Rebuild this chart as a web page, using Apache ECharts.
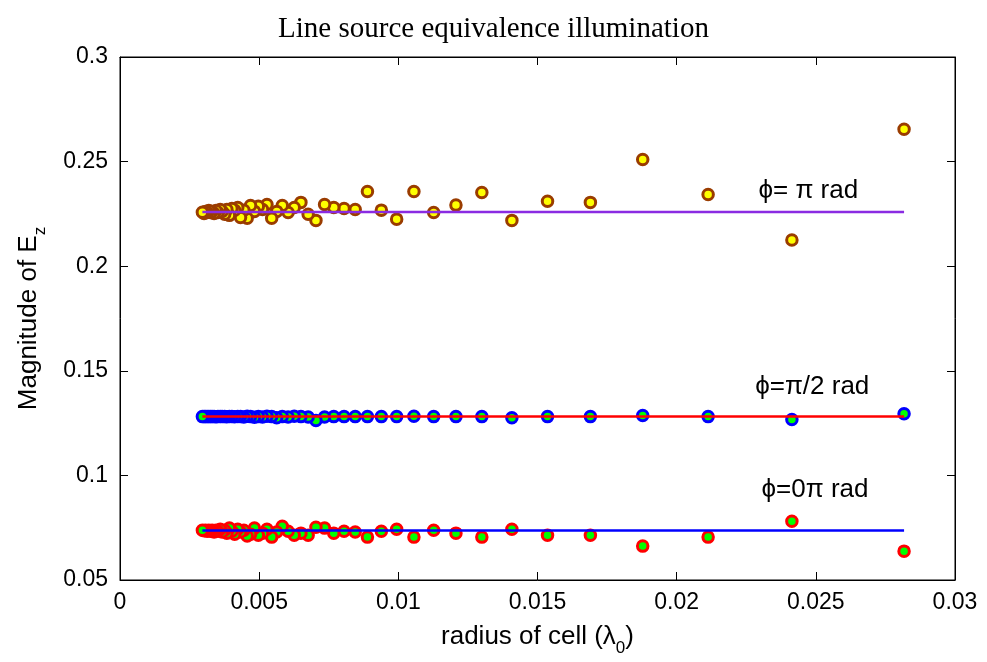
<!DOCTYPE html>
<html>
<head>
<meta charset="utf-8">
<script src="https://cdn.jsdelivr.net/npm/echarts@6/dist/echarts.min.js"></script>
<style>
html,body{margin:0;padding:0;background:#fff;}
#chart{width:987px;height:662px;}
</style>
</head>
<body>
<div id="chart"></div>
<script>
// radius of cell (lambda_0)
const radius = [0.02817,0.02414,0.02113,0.01878,0.0169,0.01536,0.01408,0.0130,0.01207,0.01127,
  0.01056,0.00994,0.00939,0.00889,0.00845,0.00805,0.00768,0.00735,0.00704,0.00676,
  0.0065,0.00626,0.00604,0.00583,0.00563,0.00545,0.00528,0.00512,0.00497,0.00483,
  0.00469,0.00457,0.00445,0.00433,0.00423,0.00412,0.00402,0.00393,0.00384,0.00376,
  0.00367,0.0036,0.00352,0.00345,0.00338,0.00331,0.00325,0.00319,0.00313,0.00307,
  0.00302,0.00296];
// phi = pi
const ezPi = [0.2655,0.2125,0.2343,0.2510,0.2305,0.2310,0.2219,0.2352,0.2292,0.2257,
  0.2357,0.2225,0.2268,0.2357,0.2271,0.2276,0.2281,0.2295,0.2219,0.2248,
  0.2305,0.2281,0.2257,0.2290,0.2262,0.2229,0.2295,0.2271,0.2286,0.2262,
  0.2290,0.2229,0.2267,0.2233,0.2281,0.2267,0.2276,0.2243,0.2271,0.2248,
  0.2262,0.2271,0.2257,0.2266,0.2252,0.2262,0.2257,0.2266,0.2257,0.2262,
  0.2252,0.2258];
// phi = pi/2
const ezHalfPi = [0.1295,0.1267,0.1281,0.1286,0.1281,0.1281,0.1276,0.1281,0.1281,0.1281,
  0.1283,0.1281,0.1281,0.1281,0.1281,0.1281,0.1281,0.1279,0.1262,0.1279,
  0.1281,0.1283,0.1279,0.1281,0.1276,0.1281,0.1283,0.1279,0.1281,0.1278,
  0.1281,0.1283,0.1279,0.1281,0.1282,0.1280,0.1281,0.1282,0.1280,0.1281,
  0.1281,0.1282,0.1281,0.1280,0.1281,0.1281,0.1281,0.1281,0.1281,0.1281,
  0.1281,0.1281];
// phi = 0
const ezZero = [0.0638,0.0781,0.0705,0.0662,0.0714,0.0714,0.0743,0.0705,0.0724,0.0738,
  0.0705,0.0743,0.0733,0.0705,0.0729,0.0733,0.0724,0.0748,0.0752,0.0714,
  0.0724,0.0714,0.0733,0.0757,0.0729,0.0705,0.0743,0.0724,0.0714,0.0748,
  0.0719,0.0710,0.0738,0.0729,0.0743,0.0719,0.0733,0.0748,0.0724,0.0738,
  0.0729,0.0743,0.0733,0.0738,0.0729,0.0738,0.0733,0.0738,0.0733,0.0738,
  0.0735,0.0738];
// line-source reference levels
const levelPi = 0.2259;
const levelHalfPi = 0.1282;
const levelZero = 0.0737;
// annotation texts and their data anchors
const annoText = ['ϕ= π rad', 'ϕ=π/2 rad', 'ϕ=0π rad'];
const annoX = [0.02473, 0.02487, 0.02497];
const annoY = [0.2362, 0.1424, 0.0933];

const xMin = Math.min(...radius), xMax = Math.max(...radius);
const pts = (ys) => radius.map((x, i) => [x, ys[i]]);
const lvl = (y) => [[xMin, y], [xMax, y]];

const FONT = 'Liberation Sans, Arial, sans-serif';
const chart = echarts.init(document.getElementById('chart'));
const axisCommon = {
  axisLine: {show: true, onZero: false, lineStyle: {color: '#000', width: 1}},
  axisTick: {show: true, inside: true, length: 8, lineStyle: {color: '#000'}},
  splitLine: {show: false},
  axisLabel: {color: '#000', fontSize: 23, fontFamily: FONT}
};
const scatterStyle = (fill, edge) => ({
  type: 'scatter', symbol: 'circle', symbolSize: 10.5, z: 2,
  itemStyle: {color: fill, borderColor: edge, borderWidth: 3, opacity: 1},
  emphasis: {disabled: true}
});
const lineStyle = (color, y) => ({
  type: 'line', data: lvl(y), showSymbol: false, symbol: 'none', z: 3,
  lineStyle: {color: color, width: 2.5}, emphasis: {disabled: true}
});
const nameRich = {
  a: {fontSize: 26, fontFamily: FONT, color: '#000', verticalAlign: 'bottom', lineHeight: 30},
  s: {fontSize: 17, fontFamily: FONT, color: '#000', verticalAlign: 'bottom', lineHeight: 22, padding: [0, 0, -7, 0]}
};

chart.setOption({
  animation: false,
  backgroundColor: '#fff',
  title: {
    text: 'Line source equivalence illumination',
    left: 'center', top: 10,
    textStyle: {fontFamily: 'Liberation Serif, Times New Roman, serif', fontSize: 29, fontWeight: 'normal', color: '#000'}
  },
  grid: {left: 120, right: 32, top: 57, bottom: 80, show: true, borderColor: '#000', borderWidth: 1, backgroundColor: 'transparent'},
  xAxis: [
    Object.assign({}, axisCommon, {
      type: 'value', min: 0, max: 0.03, interval: 0.005, position: 'bottom',
      axisLabel: Object.assign({}, axisCommon.axisLabel, {margin: 11}),
      name: '{a|radius of cell (λ}{s|0}{a|)}', nameLocation: 'middle', nameGap: 40,
      nameTextStyle: {rich: nameRich}
    }),
    Object.assign({}, axisCommon, {
      type: 'value', min: 0, max: 0.03, interval: 0.005, position: 'top',
      axisLabel: {show: false}
    })
  ],
  yAxis: [
    Object.assign({}, axisCommon, {
      type: 'value', min: 0.05, max: 0.3, interval: 0.05, position: 'left',
      axisLabel: Object.assign({}, axisCommon.axisLabel, {margin: 12}),
      name: '{a|Magnitude of E}{s|z}', nameLocation: 'middle', nameGap: 78, nameRotate: 90,
      nameTextStyle: {rich: nameRich}
    }),
    Object.assign({}, axisCommon, {
      type: 'value', min: 0.05, max: 0.3, interval: 0.05, position: 'right',
      axisLabel: {show: false}
    })
  ],
  series: [
    Object.assign(scatterStyle('#ffff00', '#9a3c00'), {name: 'pi', data: pts(ezPi)}),
    Object.assign(scatterStyle('#00ff00', '#0000ff'), {name: 'halfpi', data: pts(ezHalfPi)}),
    Object.assign(scatterStyle('#00ff00', '#ff0000'), {name: 'zero', data: pts(ezZero)}),
    lineStyle('#8a2be2', levelPi),
    lineStyle('#ff0000', levelHalfPi),
    lineStyle('#0000ff', levelZero),
    {
      type: 'scatter', symbolSize: 0, z: 4, silent: true,
      itemStyle: {opacity: 1},
      data: annoText.map((t, i) => ({name: t, value: [annoX[i], annoY[i]]})),
      label: {show: true, position: 'inside', formatter: p => p.name, color: '#000',
        textBorderWidth: 0, opacity: 1, fontSize: 26, fontFamily: FONT}
    }
  ]
});
</script>
</body>
</html>
